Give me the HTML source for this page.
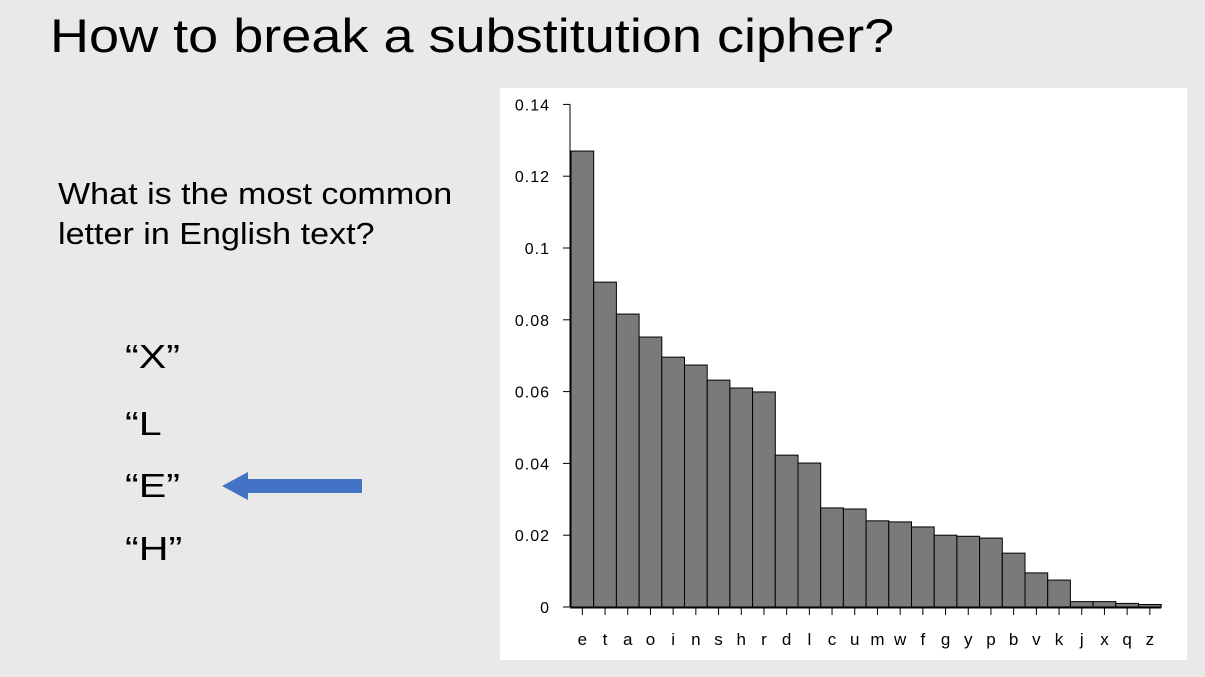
<!DOCTYPE html>
<html><head><meta charset="utf-8"><style>
body{margin:0;width:1205px;height:677px;background:#e9e9e9;font-family:"Liberation Sans",sans-serif;position:relative;overflow:hidden}
.t{position:absolute;color:#000;white-space:nowrap;transform-origin:0 0}
</style></head><body>
<div class="t" style="left:50px;top:8px;font-size:47px;transform:scaleX(1.15)">How to break a substitution cipher?</div>
<div class="t" style="left:58px;top:174px;font-size:31px;line-height:40px;transform:scaleX(1.1)">What is the most common<br>letter in English text?</div>
<div class="t" style="left:125px;top:338px;font-size:33px;transform:scaleX(1.25)">“X”</div>
<div class="t" style="left:125px;top:405px;font-size:33px;transform:scaleX(1.25)">“L</div>
<div class="t" style="left:125px;top:467px;font-size:33px;transform:scaleX(1.25)">“E”</div>
<div class="t" style="left:125px;top:530px;font-size:33px;transform:scaleX(1.25)">“H”</div>
<svg style="position:absolute;left:0;top:0" width="400" height="677"><polygon points="222,486 248,472 248,479 362,479 362,493 248,493 248,500" fill="#4472c4"/></svg>
<svg id="chart" style="position:absolute;left:0;top:0" width="1205" height="677"></svg>
<script>
const letters=["e","t","a","o","i","n","s","h","r","d","l","c","u","m","w","f","g","y","p","b","v","k","j","x","q","z"];
const freqs=[0.127,0.0905,0.0816,0.0752,0.0696,0.0674,0.0632,0.061,0.0599,0.0423,0.0401,0.0276,0.0273,0.024,0.0237,0.0223,0.02,0.0197,0.0192,0.015,0.0095,0.0075,0.0015,0.0015,0.001,0.0007];
const yTicks=[0,0.02,0.04,0.06,0.08,0.1,0.12,0.14];
const yLabels=["0","0.02","0.04","0.06","0.08","0.1","0.12","0.14"];
const NS="http://www.w3.org/2000/svg";
const svg=document.getElementById('chart');
const x0=571,bw=22.7,y0=607,ppu=3590;
const X=i=>x0+i*bw, Y=v=>y0-v*ppu;
function mk(t,a){const e=document.createElementNS(NS,t);for(const k in a)e.setAttribute(k,a[k]);svg.appendChild(e);return e;}
const bg=mk('rect',{x:500,y:88,width:687,height:572,fill:'#fff'});


freqs.forEach((v,i)=>{
 const r=mk('rect',{x:X(i),y:Y(v),width:bw,height:v*ppu,fill:'#7a7a7a',stroke:'#000','stroke-width':1});
 
 
 const tk=mk('line',{x1:X(i)+bw/2,x2:X(i)+bw/2,y1:y0+1,y2:y0+8,stroke:'#000'});
 
 
 const t=mk('text',{x:X(i)+bw/2,y:645,'font-size':17,'text-anchor':'middle','font-family':'Liberation Sans, sans-serif'});
 t.textContent=letters[i];
 
 
});
const ax=mk('line',{x1:x0-1,x2:x0-1,y1:Y(0.14),y2:y0,stroke:'#000'});


const xa=mk('line',{x1:x0-1,x2:X(26),y1:y0+1,y2:y0+1,stroke:'#000'});


yTicks.forEach((v,i)=>{
 const l=mk('line',{x1:x0-8,x2:x0-1,y1:Y(v),y2:Y(v),stroke:'#000'});
 
 
 const t=mk('text',{x:550,y:Y(v)+6,'font-size':16,'letter-spacing':1,'text-anchor':'end','font-family':'Liberation Sans, sans-serif'});
 t.textContent=yLabels[i];
 
 
});
</script>
</body></html>
